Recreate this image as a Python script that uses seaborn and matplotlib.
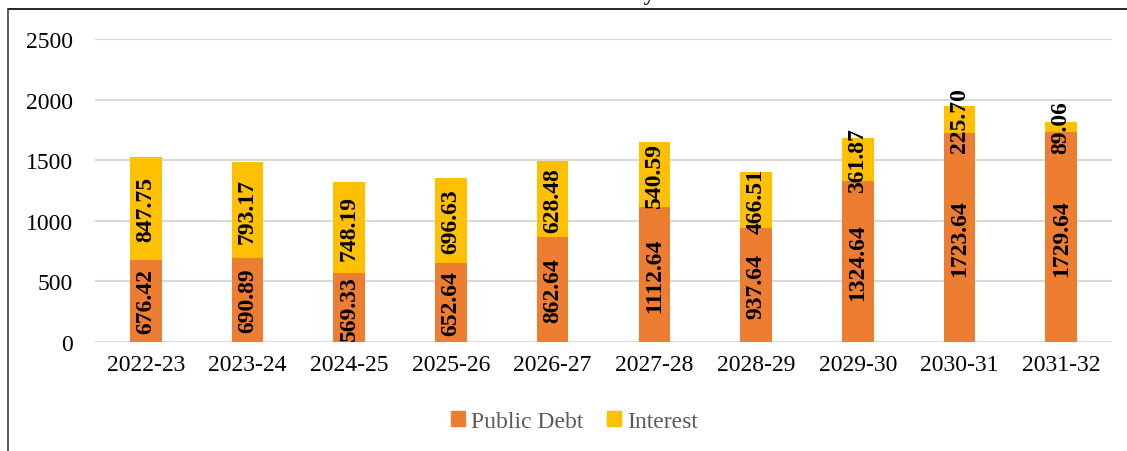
import matplotlib.pyplot as plt
import pandas as pd
import seaborn as sns
from matplotlib.lines import Line2D
from matplotlib.patches import Patch

# values
years = ["2022-23", "2023-24", "2024-25", "2025-26", "2026-27",
         "2027-28", "2028-29", "2029-30", "2030-31", "2031-32"]
public_debt = [676.42, 690.89, 569.33, 652.64, 862.64,
               1112.64, 937.64, 1324.64, 1723.64, 1729.64]
interest = [847.75, 793.17, 748.19, 696.63, 628.48,
            540.59, 466.51, 361.87, 225.70, 89.06]
y_ticks = [0, 500, 1000, 1500, 2000, 2500]

debt_color = "#ED7D31"
interest_color = "#FFC000"

df = pd.DataFrame({"Year": years, "Public Debt": public_debt, "Interest": interest})
df["Total"] = df["Public Debt"] + df["Interest"]

sns.set_theme(style="white")
plt.rcParams["font.family"] = ["Liberation Serif", "DejaVu Serif"]

fig = plt.figure(figsize=(11.27, 4.52), dpi=100)
ax = fig.add_axes([0.0843, 0.2412, 0.9024, 0.6704])

# stacked bars: total (interest colour) first, then public debt over it
sns.barplot(data=df, x="Year", y="Total", color=interest_color, width=0.31,
            saturation=1, linewidth=0, ax=ax, zorder=2)
sns.barplot(data=df, x="Year", y="Public Debt", color=debt_color, width=0.31,
            saturation=1, linewidth=0, ax=ax, zorder=3)

# value labels, rotated, centred in each segment
for i, (d, it) in enumerate(zip(public_debt, interest)):
    ax.text(i, d / 2, f"{d:.2f}", rotation=90, ha="center", va="center",
            fontsize=17, fontweight="bold", color="black", zorder=4)
    ax.text(i, d + it / 2, f"{it:.2f}", rotation=90, ha="center", va="center",
            fontsize=17, fontweight="bold", color="black", zorder=4)

ax.set_ylim(0, 2500)
ax.set_xlim(-0.5, 9.5)
ax.set_yticks(y_ticks)
ax.yaxis.grid(True, color="#d9d9d9", linewidth=1.5, zorder=0)
ax.set_axisbelow(True)
for s in ax.spines.values():
    s.set_visible(False)
ax.tick_params(axis="both", length=0, labelsize=17, colors="black")
ax.tick_params(axis="y", pad=16)
ax.tick_params(axis="x", pad=9)
ax.set_xlabel("")
ax.set_ylabel("")

handles = [Patch(color=debt_color, label="Public Debt"),
           Patch(color=interest_color, label="Interest")]
leg = fig.legend(handles=handles, loc="center", bbox_to_anchor=(0.51, 0.066),
                 ncol=2, frameon=False, fontsize=17, handlelength=0.6,
                 handleheight=0.6, handletextpad=0.25, columnspacing=1.0)
for t in leg.get_texts():
    t.set_color("#595959")

# title is cut off at the top of the image, as in the reference
fig.text(0.508, 0.9995, "Chart 4: Debt Maturity Profile", ha="center",
         va="baseline", fontsize=17, fontweight="bold")

# border lines of the chart box
fig.add_artist(Line2D([8 / 1127, 1], [1 - 10 / 452, 1 - 10 / 452],
                      color="black", linewidth=1.2))
fig.add_artist(Line2D([8 / 1127, 8 / 1127], [0, 1 - 10 / 452],
                      color="#404040", linewidth=1.2))

fig.savefig("out.png", dpi=100)
